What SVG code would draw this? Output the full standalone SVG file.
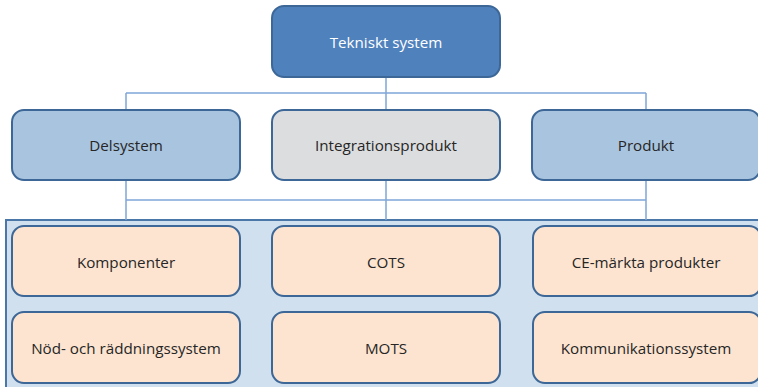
<svg xmlns="http://www.w3.org/2000/svg" width="758" height="387" viewBox="0 0 758 387">
  <style>
    .box { stroke: #3C6797; stroke-width: 2; }
    .top { fill: #4F81BD; }
    .sub { fill: #A9C4DE; }
    .grey { fill: #DCDDDF; }
    .leaf { fill: #FDE4D0; }
    .lbl { font-family: "Open Sans", "Liberation Sans", sans-serif; font-size: 15.2px; fill: #262626; text-anchor: middle; dominant-baseline: central; }
    .lbl.w { fill: #FFFFFF; }
    .link { fill: none; stroke: #7FA7D7; stroke-width: 1.5; }
  </style>
  <rect width="758" height="387" fill="#FFFFFF"/>

  <!-- container behind the leaf nodes -->
  <rect id="container" x="6" y="220" width="760" height="180" fill="#D0E0EE" stroke="#4A76A8" stroke-width="2"/>

  <g id="connectors">
    <path class="link" d="M386 77 V93 M126 93 H646 M126 93 V110 M386 93 V110 M646 93 V110"/>
    <path class="link" d="M126 180 V220 M386 180 V220 M646 180 V220 M126 200 H646"/>
  </g>

  <g id="tekniskt-system">
    <rect class="box top" x="272" y="6" width="228" height="71" rx="12"/>
    <text class="lbl w" x="386" y="42">Tekniskt system</text>
  </g>
  <g id="delsystem">
    <rect class="box sub" x="12" y="110" width="228" height="70" rx="12"/>
    <text class="lbl" x="126" y="145">Delsystem</text>
  </g>
  <g id="integrationsprodukt">
    <rect class="box grey" x="272" y="110" width="228" height="70" rx="12"/>
    <text class="lbl" x="386" y="145">Integrationsprodukt</text>
  </g>
  <g id="produkt">
    <rect class="box sub" x="532" y="110" width="228" height="70" rx="12"/>
    <text class="lbl" x="646" y="145">Produkt</text>
  </g>

  <g id="komponenter">
    <rect class="box leaf" x="12" y="226" width="228" height="70" rx="12"/>
    <text class="lbl" x="126" y="262">Komponenter</text>
  </g>
  <g id="cots">
    <rect class="box leaf" x="272" y="226" width="228" height="70" rx="12"/>
    <text class="lbl" x="386" y="262">COTS</text>
  </g>
  <g id="ce-markta">
    <rect class="box leaf" x="533" y="226" width="228" height="70" rx="12"/>
    <text class="lbl" x="646" y="262">CE-märkta produkter</text>
  </g>
  <g id="nod-och-raddning">
    <rect class="box leaf" x="12" y="312" width="228" height="71" rx="12"/>
    <text class="lbl" x="126" y="348">Nöd- och räddningssystem</text>
  </g>
  <g id="mots">
    <rect class="box leaf" x="272" y="312" width="228" height="71" rx="12"/>
    <text class="lbl" x="386" y="348">MOTS</text>
  </g>
  <g id="kommunikationssystem">
    <rect class="box leaf" x="533" y="312" width="228" height="71" rx="12"/>
    <text class="lbl" x="646" y="348">Kommunikationssystem</text>
  </g>
</svg>
